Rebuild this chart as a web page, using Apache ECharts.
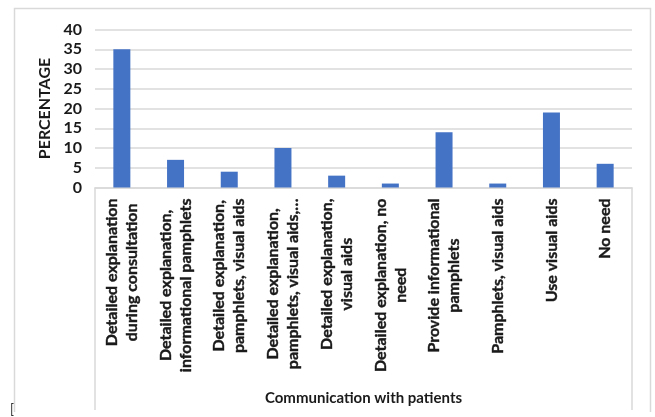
<!DOCTYPE html>
<html>
<head>
<meta charset="utf-8">
<script src="https://cdn.jsdelivr.net/npm/echarts@6/dist/echarts.min.js"></script>
<style>
html,body{margin:0;padding:0;background:#fff;}
#chart{width:655px;height:417px;}
</style>
</head>
<body>
<div id="chart"></div>
<script>
const categories = [
  "Detailed explanation\nduring consultation",
  "Detailed explanation,\ninformational pamphlets",
  "Detailed explanation,\npamphlets, visual aids",
  "Detailed explanation,\npamphlets, visual aids,…",
  "Detailed explanation,\nvisual aids",
  "Detailed explanation, no\nneed",
  "Provide informational\npamphlets",
  "Pamphlets, visual aids",
  "Use visual aids",
  "No need"
];
const percentages = [35, 7, 4, 10, 3, 1, 14, 1, 19, 6];
const yMin = 0, yMax = 40, yStep = 5;
const yAxisTitle = "PERCENTAGE";
const xAxisTitle = "Communication with patients";

const FONT = "Lato";
const TXT = "#1a1a1a";
const GRID = "#d9d9d9";

const chart = echarts.init(document.getElementById('chart'), null, {renderer: 'canvas'});
chart.setOption({
  animation: false,
  backgroundColor: '#ffffff',
  grid: {left: 95, right: 23, top: 29.5, bottom: 229.5, containLabel: false},
  xAxis: {
    type: 'category',
    data: categories,
    boundaryGap: true,
    name: xAxisTitle,
    nameLocation: 'middle',
    nameGap: 203,
    nameTextStyle: {fontFamily: FONT, fontWeight: 'bold', fontSize: 15, color: TXT},
    axisLine: {show: true, lineStyle: {color: GRID, width: 1.5}},
    axisTick: {show: false},
    axisLabel: {
      interval: 0,
      rotate: 90,
      margin: 11,
      fontFamily: FONT, fontWeight: 'bold', fontSize: 16, color: TXT, lineHeight: 20,
      formatter: function (v) {
        return v.split('\n').map(function (l) { return '{c|' + l + '}'; }).join('\n');
      },
      rich: {
        c: {align: 'center', fontFamily: FONT, fontWeight: 'bold', fontSize: 16, color: TXT, lineHeight: 20, textBorderColor: TXT, textBorderWidth: 0.4}
      }
    }
  },
  yAxis: {
    type: 'value',
    min: yMin, max: yMax, interval: yStep,
    name: yAxisTitle,
    nameLocation: 'middle',
    nameGap: 34,
    nameTextStyle: {fontFamily: FONT, fontWeight: 'bold', fontSize: 16, color: TXT},
    axisLine: {show: false},
    axisTick: {show: false},
    axisLabel: {margin: 13, fontFamily: FONT, fontWeight: 'bold', fontSize: 16, color: TXT},
    splitLine: {show: true, lineStyle: {color: GRID, width: 1.5}}
  },
  series: [{
    type: 'bar',
    data: percentages,
    barWidth: 17,
    itemStyle: {color: '#4472C4'}
  }],
  graphic: [
    {type: 'polyline', silent: true, shape: {points: [[14.5, 412], [14.5, 8.5], [650.5, 8.5], [650.5, 412]]}, style: {stroke: GRID, lineWidth: 1.5, fill: null}},
    {type: 'line', silent: true, shape: {x1: 95, y1: 187.5, x2: 95, y2: 410}, style: {stroke: GRID, lineWidth: 1.5}},
    {type: 'line', silent: true, shape: {x1: 632, y1: 187.5, x2: 632, y2: 410}, style: {stroke: GRID, lineWidth: 1.5}},
    {type: 'text', silent: true, left: 10, top: 403, style: {text: '[', fontSize: 13, fontFamily: FONT, fill: '#333'}}
  ]
});
</script>
</body>
</html>
